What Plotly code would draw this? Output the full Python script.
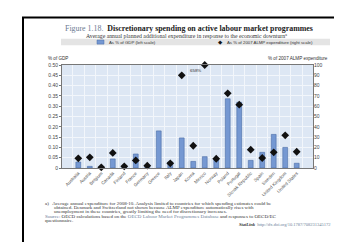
import plotly.graph_objects as go

countries = ["Australia", "Austria", "Belgium", "Canada", "Finland", "France", "Germany",
             "Greece", "Italy", "Japan", "Korea", "Mexico", "Norway", "Poland", "Portugal",
             "Slovak Republic", "Spain", "Sweden", "United Kingdom", "United States"]
pct_gdp = [0.029, 0.008, 0.003, 0.044, 0.006, 0.068, 0.016, 0.180, 0.029, 0.146,
           0.032, 0.055, 0.040, 0.336, 0.319, 0.037, 0.076, 0.163, 0.100, 0.023]
pct_almp = [9.4, 10.4, 0.7, 14.6, 1.6, 7.4, 2.3, None, 4.5, 90.0,
            21.6, 658.0, 9.0, 72.5, 61.5, 17.8, 9.7, 15.2, 31.7, 15.8]
left_ticks = [0, 0.05, 0.10, 0.15, 0.20, 0.25, 0.30, 0.35, 0.40, 0.45, 0.50]
right_ticks = [0, 10, 20, 30, 40, 50, 60, 70, 80, 90, 100]

W, H = 342, 242
L, R, T, B = 54, 305, 57, 160


def px(x):
    return (x - L) / (R - L)


def py(y):
    return (B - y) / (B - T)


# markers beyond the right-axis maximum are drawn at the top with a label
almp_shown = [None if v is None else min(v, right_ticks[-1]) for v in pct_almp]

bar_col = "#7598d2"
fig = go.Figure()
fig.add_trace(go.Bar(x=countries, y=pct_gdp, marker=dict(color=bar_col, line=dict(color="#4a6ca6", width=0.6)),
                     width=0.42, name="As % of GDP (left scale)", showlegend=False))
fig.add_trace(go.Scatter(x=countries, y=almp_shown, yaxis="y2", mode="markers",
                         marker=dict(symbol="diamond", size=6, color="#111111"),
                         cliponaxis=False, name="As % of 2007 ALMP expenditure (right scale)",
                         showlegend=False))

sans = "Liberation Sans"
serif = "Liberation Serif"

fig.update_layout(
    width=W, height=H, margin=dict(l=L, r=W - R, t=T, b=H - B),
    paper_bgcolor="white", plot_bgcolor="#dde7f4",
    font=dict(family=sans, size=5, color="#333333"),
    xaxis=dict(type="category", tickson="boundaries", showgrid=True, gridcolor="#f2f6fb", gridwidth=0.6,
               tickangle=-45, tickfont=dict(size=4.6, color="#555555"), ticks="", showline=True,
               linecolor="#777777", linewidth=0.8, mirror=True),
    yaxis=dict(range=[0, 0.5], tickvals=left_ticks,
               ticktext=["0"] + ["%.2f" % v for v in left_ticks[1:]],
               showgrid=True, gridcolor="#f2f6fb", gridwidth=0.6, zeroline=False,
               ticks="outside", ticklen=2, tickcolor="#777777", tickfont=dict(size=5, color="#444444"),
               showline=True, linecolor="#777777", linewidth=0.8, mirror=True),
    yaxis2=dict(range=[0, 100], tickvals=right_ticks, overlaying="y", side="right", showgrid=False,
                zeroline=False, ticks="", tickfont=dict(size=5, color="#444444")),
    showlegend=False,
)

shapes = []
# page frame
shapes.append(dict(type="rect", xref="paper", yref="paper", x0=px(15), x1=px(336), y0=py(250), y1=py(9.5),
                   line=dict(color="black", width=2), fillcolor="rgba(0,0,0,0)", layer="above"))
# legend band
shapes.append(dict(type="rect", xref="paper", yref="paper", x0=px(53), x1=px(322), y0=py(37.2), y1=py(30.8),
                   line=dict(width=0), fillcolor="#e4e4e4", layer="below"))
shapes.append(dict(type="rect", xref="paper", yref="paper", x0=px(89), x1=px(96), y0=py(36.1), y1=py(32),
                   line=dict(color="#4a6ca6", width=0.5), fillcolor=bar_col))
fig.update_layout(shapes=shapes)

ann = []


def add(text, x, y, size, xanchor="center", yanchor="middle", color="#222222", family=serif, **kw):
    ann.append(dict(text=text, x=px(x), y=py(y), xref="paper", yref="paper", showarrow=False,
                    xanchor=xanchor, yanchor=yanchor, font=dict(size=size, color=color, family=family), **kw))


add("<span style='color:#6b7b92'>Figure 1.18.</span>  <b>Discretionary spending on active labour market programmes</b>",
    181, 21.0, 7.9)
add("Average annual planned additional expenditure in response to the economic downturn<sup>a</sup>",
    178, 27.3, 5.8, color="#333333")
add("As % of GDP (left scale)", 99, 34.1, 4.3, xanchor="left", family=sans, color="#333333")
add("\u25c6", 212, 34.1, 5.5, color="#111111", family="DejaVu Sans")
add("As % of 2007 ALMP expenditure (right scale)", 217, 34.1, 4.3, xanchor="left", family=sans, color="#333333")
add("% of GDP", 38, 50.5, 4.6, xanchor="left", family=sans, color="#333333")
add("% of 2007 ALMP expenditure", 322, 50.5, 4.6, xanchor="right", family=sans, color="#333333")

# label for the off-scale Mexico marker
mex = countries.index("Mexico")
ann.append(dict(text="%d%%" % round(pct_almp[mex]), x=countries[mex], y=right_ticks[-1], xref="x", yref="y2",
                showarrow=False, xanchor="right", yanchor="top", xshift=-1.5, yshift=-1,
                font=dict(size=4.4, family=sans, color="#333333")))

notes = [
    (35, 195.5, "a)   Average annual expenditure for 2008-10. Analysis limited to countries for which spending estimates could be"),
    (44, 199.7, "obtained. Denmark and Switzerland not shown because ALMP expenditure automatically rises with"),
    (44, 203.8, "unemployment in these countries, greatly limiting the need for discretionary increases."),
    (35, 208.0, "<span style='color:#5f7391'>Source:</span> OECD calculations based on the <span style='color:#6d7f99'>OECD Labour Market Programmes Database</span> and responses to OECD/EC"),
    (35, 212.0, "questionnaire."),
]
for x, y, t in notes:
    add(t, x, y, 5.0, xanchor="left", color="#333333")
add("<b><i>StatLink</i></b>  <span style='color:#6d7f99'>http://dx.doi.org/10.1787/708231345172</span>",
    325, 216.6, 4.5, xanchor="right", color="#333333")

fig.update_layout(annotations=ann)
fig.write_html("out.html")
